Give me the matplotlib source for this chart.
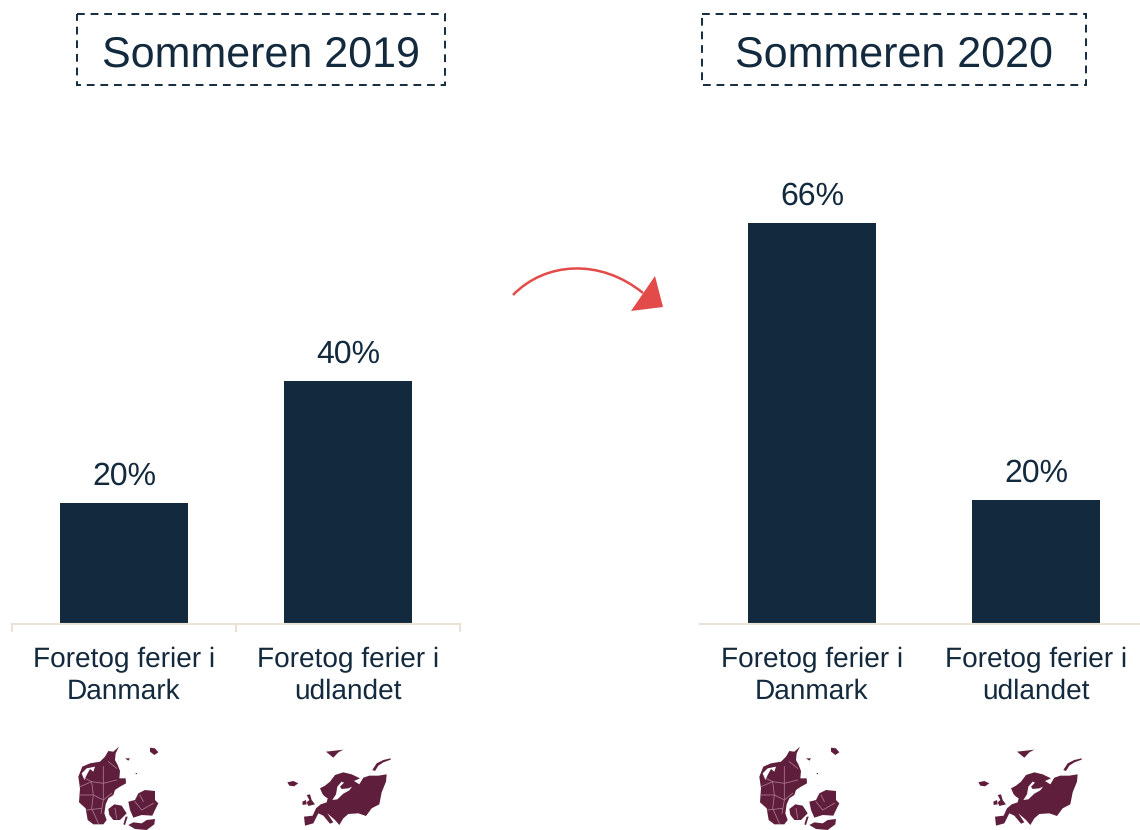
import matplotlib
matplotlib.use('Agg')
import matplotlib.pyplot as plt
from matplotlib.patches import Rectangle, Polygon, PathPatch
from matplotlib.path import Path

plt.rcParams['font.family'] = ['Liberation Sans', 'DejaVu Sans']
plt.rcParams['text.hinting'] = 'none'
plt.rcParams['text.hinting_factor'] = 1

NAVY = '#132a3e'
RED = '#e34a4a'
WINE = '#5f1f3c'
BASE = '#e9e2d6'

categories = ['Foretog ferier i\nDanmark', 'Foretog ferier i\nudlandet']
values_2019 = [19.8, 40]
values_2020 = [66, 20.3]
labels_2019 = ['20%', '40%']
labels_2020 = ['66%', '20%']
titles = ['Sommeren 2019', 'Sommeren 2020']

jutland = [(132, 5), (122, 25), (120, 45), (128, 60), (135, 78), (133, 100), (152, 100), (153, 115), (135, 125),
           (120, 135), (115, 150), (100, 160), (92, 178), (88, 205), (95, 225), (85, 238), (55, 238), (38, 225),
           (32, 190), (12, 172), (15, 130), (10, 95), (22, 65), (45, 55), (75, 50), (90, 35), (100, 18), (115, 20)]
limfjord = [(20, 85), (35, 70), (60, 65), (55, 80), (45, 72), (35, 90), (28, 105)]
funen = [(100, 192), (118, 178), (140, 182), (155, 205), (135, 225), (115, 225), (103, 210)]
zealand = [(160, 170), (180, 165), (190, 145), (210, 135), (240, 138), (240, 165), (250, 175), (240, 195),
           (232, 212), (200, 210), (175, 218), (165, 195)]
lolland = [(160, 240), (175, 232), (200, 235), (215, 225), (240, 222), (238, 238), (215, 255), (180, 252)]
bornholm = [(225, 8), (240, 10), (250, 22), (238, 30), (225, 20)]
dk_small = [[(150, 40), (165, 40), (160, 47)], [(180, 85), (186, 84), (186, 88)],
            [(152, 215), (158, 215), (150, 240), (145, 238)]]
dk_borders = [[(15, 125), (50, 110), (85, 115), (125, 105)], [(15, 150), (55, 150), (85, 165), (110, 145)],
              [(50, 110), (55, 150), (50, 190), (70, 235)], [(85, 65), (85, 115), (85, 165), (78, 205)],
              [(35, 195), (80, 190)], [(30, 100), (50, 110)], [(100, 50), (125, 70)],
              [(180, 170), (200, 195), (235, 175)], [(195, 150), (205, 170)], [(120, 190), (125, 220)]]

europe = [(72, 215), (98, 212), (108, 190), (122, 178), (140, 172), (143, 160), (135, 155), (128, 148), (120, 130),
          (135, 122), (150, 110), (165, 90), (190, 82), (215, 88), (240, 100), (222, 108), (238, 118), (250, 98),
          (268, 92), (295, 92), (320, 88), (318, 110), (305, 142), (298, 178), (275, 190), (258, 213), (235, 205),
          (205, 207), (190, 220), (178, 240), (165, 225), (142, 205), (160, 232), (150, 236), (130, 212),
          (115, 205), (100, 235), (75, 242)]
baltic = [(157, 165), (168, 148), (172, 125), (185, 110), (192, 113), (180, 125), (185, 132), (205, 130),
          (216, 125), (208, 136), (190, 146), (172, 163)]
eu_islands = [[(277, 75), (290, 55), (310, 45), (332, 40), (332, 44), (310, 52), (295, 62), (285, 78)],
              [(138, 20), (165, 17), (190, 14), (175, 22), (160, 38), (150, 30)],
              [(22, 112), (40, 108), (55, 115), (42, 124), (28, 122)],
              [(80, 150), (90, 148), (95, 165), (105, 178), (85, 183), (80, 172), (88, 165)],
              [(67, 170), (78, 165), (80, 178), (68, 180)]]

fig = plt.figure(figsize=(11.4, 8.3), dpi=100)


def bar_panel(left, values, labels, ticks):
    ax = fig.add_axes([left / 1140, (830 - 623.5) / 830, 448 / 1140, 607 / 830])
    bars = ax.bar(range(2), values, width=0.571, color=NAVY)
    ax.bar_label(bars, labels=labels, fontsize=23, color=NAVY, padding=8.5)
    ax.set_xlim(-0.5, 1.5)
    ax.set_ylim(0, 100)
    ax.set_yticks([])
    ax.set_xticks([0, 1])
    ax.set_xticklabels(categories, fontsize=20, color=NAVY, linespacing=1.24)
    ax.tick_params(axis='x', length=0, pad=17)
    if ticks:
        ax.set_xticks([-0.5, 0.5, 1.5], minor=True)
        ax.tick_params(axis='x', which='minor', length=6, width=1.5, color=BASE)
    for s in ['top', 'left', 'right']:
        ax.spines[s].set_visible(False)
    ax.spines['bottom'].set_color(BASE)
    ax.spines['bottom'].set_linewidth(1.5)
    ax.patch.set_alpha(0)
    return ax


bar_panel(12, values_2019, labels_2019, True)
bar_panel(700, values_2020, labels_2020, False)

# overlay in picture pixels for the boxes, arrow and maps
ov = fig.add_axes([0, 0, 1, 1])
ov.set_xlim(0, 1140)
ov.set_ylim(830, 0)
ov.axis('off')
ov.patch.set_alpha(0)

for (x0, x1), title in zip([(77, 445), (702, 1086)], titles):
    ov.add_patch(Rectangle((x0, 14), x1 - x0, 71, fill=False, ec=NAVY, lw=1.4, ls=(0, (4, 3))))
    ov.text((x0 + x1) / 2, 55, title, fontsize=30.9, color=NAVY, ha='center', va='center')

curve = Path([(513, 295), (545, 262), (600, 258), (643, 293)],
             [Path.MOVETO, Path.CURVE4, Path.CURVE4, Path.CURVE4])
ov.add_patch(PathPatch(curve, fill=False, ec=RED, lw=1.8))
ov.add_patch(Polygon([(655, 276), (663, 307), (631, 311)], fc=RED, ec='none'))


def draw_shape(points, x0, color=WINE, zorder=3):
    pts = [(x0 + x / 3, 745 + y / 3) for x, y in points]
    ov.add_patch(Polygon(pts, fc=color, ec='none', zorder=zorder))


def draw_denmark(x0):
    for shape in [jutland, funen, zealand, lolland, bornholm] + dk_small:
        draw_shape(shape, x0)
    draw_shape(limfjord, x0, 'white', 4)
    for line in dk_borders:
        ov.plot([x0 + x / 3 for x, y in line], [745 + y / 3 for x, y in line],
                color='#a9758f', lw=0.6, zorder=5)


def draw_europe(x0):
    for shape in [europe] + eu_islands:
        draw_shape(shape, x0)
    draw_shape(baltic, x0, 'white', 4)


draw_denmark(75)
draw_denmark(756)
draw_europe(280)
draw_europe(971)

fig.savefig('out.png', dpi=100)
